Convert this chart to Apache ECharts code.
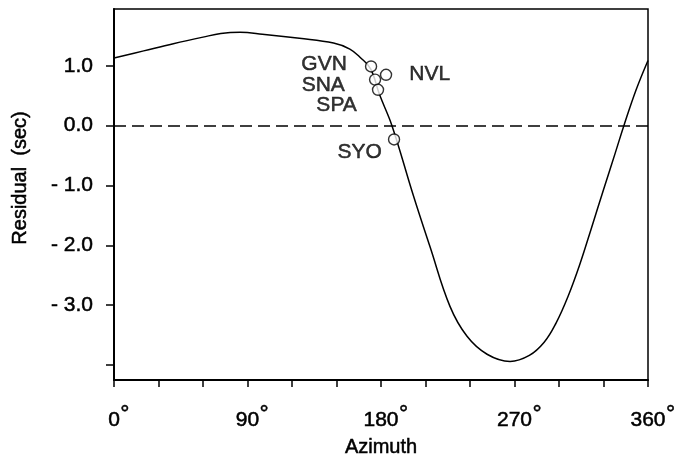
<!DOCTYPE html>
<html>
<head>
<meta charset="utf-8">
<script src="https://cdn.jsdelivr.net/npm/echarts@6/dist/echarts.min.js"></script>
<style>
  html, body { margin: 0; padding: 0; background: #fff; }
  #chart { width: 682px; height: 461px; }
</style>
</head>
<body>
<div id="chart"></div>
<script>
// Travel-time residual as a function of source azimuth (degrees)
const azimuth = [0, 20, 40, 60, 72, 85, 100, 125, 148, 159, 166, 173, 179, 187.4, 201.6, 213, 226.5, 238, 251.5, 267, 280, 290, 298, 306, 314, 322, 330, 338, 344, 352, 360];
const residual = [1.13, 1.25, 1.37, 1.48, 1.54, 1.56, 1.53, 1.46, 1.38, 1.28, 1.14, 0.95, 0.52, 0, -1.15, -2.02, -3.02, -3.52, -3.82, -3.94, -3.84, -3.62, -3.3, -2.86, -2.32, -1.7, -1.07, -0.45, 0.02, 0.6, 1.09];

// Observing stations
const stationNames = ['GVN', 'SNA', 'SPA', 'NVL', 'SYO'];
const stationAzimuth = [173.3, 176, 178, 183.4, 188.8];
const stationResidual = [0.99, 0.77, 0.6, 0.85, -0.23];

// Axis ticks and labels
const xTickStep = 30;
const xLabelValues = [0, 90, 180, 270, 360];
const yTickValues = [-4, -3, -2, -1, 0, 1];
const yLabelValues = [-3, -2, -1, 0, 1];

const font = 'Liberation Sans, Arial, Helvetica, sans-serif';
const ink = '#000';
const textWeight = { textBorderColor: ink, textBorderWidth: 0.5 };

// label placement per station (side of the marker and shift)
const stationLabelStyle = {
  GVN: { position: 'left', distance: 18, offset: [0, -2] },
  SNA: { position: 'left', distance: 24, offset: [0, 6] },
  SPA: { position: 'left', distance: 15, offset: [0, 15] },
  NVL: { position: 'right', distance: 17, offset: [0, -1] },
  SYO: { position: 'left', distance: 6, offset: [0, 13] }
};

const curveData = azimuth.map((a, i) => [a, residual[i]]);
const stationData = stationNames.map((name, i) => ({
  name: name,
  value: [stationAzimuth[i], stationResidual[i]],
  label: stationLabelStyle[name]
}));

const chart = echarts.init(document.getElementById('chart'), null, { renderer: 'canvas' });

chart.setOption({
  animation: false,
  backgroundColor: '#fff',
  grid: {
    left: 114, right: 34, top: 9, bottom: 81,
    show: true, borderColor: ink, borderWidth: 1.5,
    outerBoundsMode: 'none'
  },
  xAxis: {
    type: 'value',
    min: 0, max: 360, interval: xTickStep,
    name: 'Azimuth',
    nameLocation: 'middle',
    nameGap: 57,
    nameTextStyle: Object.assign({ fontFamily: font, fontSize: 20, color: ink }, textWeight),
    axisLine: { show: true, onZero: false, lineStyle: { color: ink, width: 2 } },
    axisTick: { show: true, inside: false, length: 7, lineStyle: { color: ink, width: 1.5 } },
    splitLine: { show: false },
    axisLabel: {
      customValues: xLabelValues,
      margin: 23,
      formatter: v => '{p|}{n|' + v + '}{d|°}',
      rich: {
        p: { width: 10 },
        n: Object.assign({ fontFamily: font, fontSize: 21, color: ink }, textWeight),
        d: Object.assign({ fontFamily: font, fontSize: 23, color: ink, width: 10, padding: [0, 0, 12, 0] }, textWeight)
      }
    }
  },
  yAxis: {
    type: 'value',
    min: -4.25, max: 1.95,
    axisLine: { show: true, onZero: false, lineStyle: { color: ink, width: 2 } },
    axisTick: { show: true, inside: false, length: 8, customValues: yTickValues, lineStyle: { color: ink, width: 1.5 } },
    splitLine: { show: false },
    axisLabel: Object.assign({
      customValues: yLabelValues,
      margin: 21,
      fontFamily: font, fontSize: 21, color: ink,
      formatter: v => (v < 0 ? '- ' + Math.abs(v).toFixed(1) : v.toFixed(1))
    }, textWeight)
  },
  graphic: [{
    type: 'text',
    x: 20, y: 178,
    rotation: Math.PI / 2,
    style: {
      text: 'Residual  (sec)',
      fontFamily: font, fontSize: 20, fill: ink,
      stroke: ink, lineWidth: 0.5,
      align: 'center', verticalAlign: 'middle'
    }
  }],
  series: [
    {
      type: 'line',
      data: curveData,
      smooth: 0.4,
      showSymbol: false,
      lineStyle: { color: ink, width: 1.5 },
      markLine: {
        silent: true,
        symbol: 'none',
        label: { show: false },
        lineStyle: { color: ink, width: 1.6, type: [12, 6] },
        data: [{ yAxis: 0 }]
      },
      z: 2
    },
    {
      type: 'scatter',
      data: stationData,
      symbol: 'circle',
      symbolSize: 11,
      itemStyle: { color: '#fff', borderColor: ink, borderWidth: 1.4 },
      label: Object.assign({
        show: true,
        formatter: p => p.name,
        fontFamily: font, fontSize: 21, color: ink
      }, textWeight),
      z: 3
    }
  ]
});
</script>
</body>
</html>
